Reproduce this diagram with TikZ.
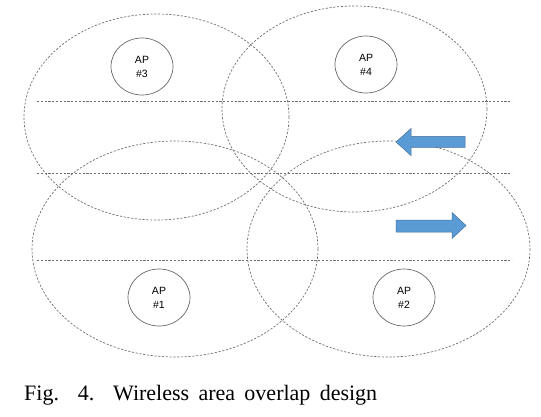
\documentclass[tikz,border=0pt]{standalone}
\usepackage{fontspec}
\setmainfont{Liberation Serif}
\setsansfont{Liberation Sans}
\usetikzlibrary{shapes.geometric}
\definecolor{arrowblue}{HTML}{5B9BD5}
\definecolor{arrowedge}{HTML}{41719C}
\definecolor{dashgray}{HTML}{707070}
\tikzset{
  zone/.style={draw=dashgray, line width=0.7pt, dash pattern=on 2.2pt off 1.6pt},
  band/.style={draw=dashgray, line width=0.7pt, dash pattern=on 2.2pt off 1.6pt},
  apnode/.style={ellipse, draw=gray!80!black, line width=0.7pt, minimum width=62pt, minimum height=57pt, inner sep=0pt,
    font=\sffamily\fontsize{10.5pt}{14pt}\selectfont, align=center},
  bluearrow/.style={fill=arrowblue, draw=arrowedge, line width=0.5pt}
}
\begin{document}
\begin{tikzpicture}[x=1pt,y=-1pt]
\useasboundingbox (0,0) rectangle (541,417);
% coverage zones
\draw[zone] (156.5,117) ellipse [x radius=132.5, y radius=103];
\draw[zone] (354.5,109) ellipse [x radius=132.5, y radius=103];
\draw[zone] (175,249) ellipse [x radius=143, y radius=108];
\draw[zone] (388.5,249) ellipse [x radius=141.5, y radius=108];
% horizontal bands
\coordinate (l1a) at (37,101.5); \coordinate (l1b) at (512,101.5);
\coordinate (l2a) at (37,173); \coordinate (l2b) at (512,173);
\coordinate (l3a) at (37,260); \coordinate (l3b) at (512,260);
\draw[band] (l1a) -- (l1b);
\draw[band] (l2a) -- (l2b);
\draw[band] (l3a) -- (l3b);
% access points
\node[apnode] (ap3) at (142,66.5) {AP\\\#3};
\node[apnode] (ap4) at (366,64.5) {AP\\\#4};
\node[apnode] (ap1) at (159,297.5) {AP\\\#1};
\node[apnode] (ap2) at (404,297.5) {AP\\\#2};
% arrows
\draw[bluearrow] (396,142) -- (411,128.5) -- (411,136.5) -- (465,136.5) -- (465,147.5) -- (411,147.5) -- (411,155.5) -- cycle;
\draw[bluearrow] (466,225.5) -- (452,212.5) -- (452,220) -- (396,220) -- (396,232) -- (452,232) -- (452,238.5) -- cycle;
% caption
\node[anchor=base west, inner sep=0pt, font=\fontsize{22pt}{26pt}\selectfont] (cap) at (24,400.5)
  {\makebox[353pt][s]{Fig. 4. Wireless area overlap design}};
\end{tikzpicture}
\end{document}
